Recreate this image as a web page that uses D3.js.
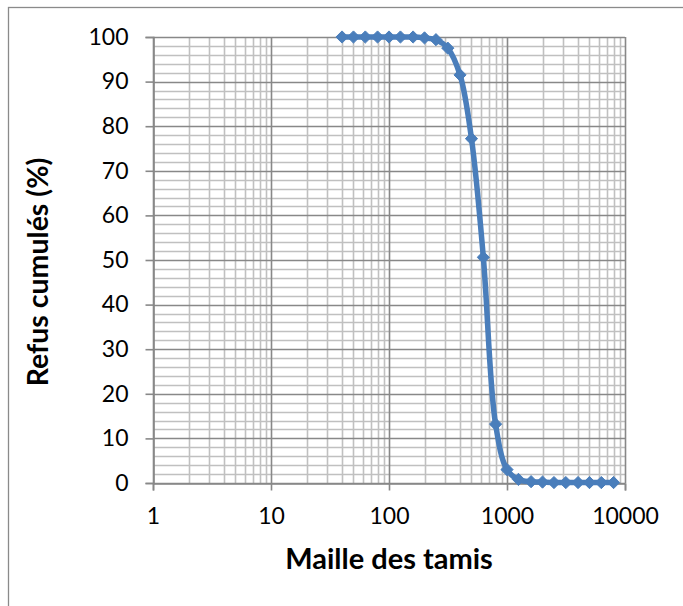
<!DOCTYPE html>
<html>
<head>
<meta charset="utf-8">
<script src="https://cdn.jsdelivr.net/npm/d3@7"></script>
<style>
  html, body { margin: 0; padding: 0; background: #fff; }
  svg { display: block; }
  text { font-family: Lato, "Open Sans", sans-serif; fill: #000; }
</style>
</head>
<body>
<svg id="chart" width="683" height="606"></svg>
<script>
// Sieve openings (µm) and cumulative retained (%)
const sieveSizes = [40, 50, 63, 80, 100, 125, 160, 200, 250, 315, 400, 500, 630, 800, 1000, 1250, 1600, 2000, 2500, 3150, 4000, 5000, 6300, 8000];
const refusCumules = [100, 100, 100, 100, 100, 100, 100, 99.8, 99.4, 97.5, 91.5, 77.2, 50.6, 13.2, 3.0, 0.8, 0.3, 0.2, 0.1, 0.1, 0.1, 0.1, 0.1, 0.1];
const xTickLabels = [1, 10, 100, 1000, 10000];
const yTickLabels = [0, 10, 20, 30, 40, 50, 60, 70, 80, 90, 100];
const xTitle = "Maille des tamis";
const yTitle = "Refus cumulés (%)";

const svg = d3.select("#chart");
const plot = { left: 153, right: 625, top: 37, bottom: 483 };

const x = d3.scaleLog().domain([1, 10000]).range([plot.left, plot.right]);
const y = d3.scaleLinear().domain([0, 100]).range([plot.bottom, plot.top]);

// outer chart frame
svg.append("rect")
  .attr("x", 8.5).attr("y", 7.5).attr("width", 720).attr("height", 720)
  .attr("fill", "#fff").attr("stroke", "#8a8a8a").attr("stroke-width", 1.3);

const minorColor = "#c0c0c0";
const majorColor = "#888888";

// minor vertical gridlines
const minorX = [];
for (let d = 1; d < 10000; d *= 10) for (let k = 2; k <= 9; k++) minorX.push(d * k);
svg.append("g").selectAll("line").data(minorX).join("line")
  .attr("x1", d => Math.round(x(d)) + 0.5).attr("x2", d => Math.round(x(d)) + 0.5)
  .attr("y1", plot.top).attr("y2", plot.bottom)
  .attr("stroke", minorColor).attr("stroke-width", 1.6);

// minor horizontal gridlines (every 2)
const minorY = d3.range(0, 101, 2).filter(v => v % 10 !== 0);
svg.append("g").selectAll("line").data(minorY).join("line")
  .attr("x1", plot.left).attr("x2", plot.right)
  .attr("y1", d => Math.round(y(d)) + 0.5).attr("y2", d => Math.round(y(d)) + 0.5)
  .attr("stroke", minorColor).attr("stroke-width", 1.6);

// major gridlines
svg.append("g").selectAll("line").data(xTickLabels).join("line")
  .attr("x1", d => Math.round(x(d)) + 0.5).attr("x2", d => Math.round(x(d)) + 0.5)
  .attr("y1", plot.top).attr("y2", plot.bottom)
  .attr("stroke", majorColor).attr("stroke-width", 1.6);
svg.append("g").selectAll("line").data(yTickLabels).join("line")
  .attr("x1", plot.left).attr("x2", plot.right)
  .attr("y1", d => Math.round(y(d)) + 0.5).attr("y2", d => Math.round(y(d)) + 0.5)
  .attr("stroke", majorColor).attr("stroke-width", 1.6);

// axes
const xAxis = d3.axisBottom(x).tickValues(xTickLabels).tickFormat(d3.format("d")).tickSize(7).tickPadding(17);
const gx = svg.append("g").attr("transform", `translate(0,${Math.round(y(0)) + 0.5})`).call(xAxis);
const yAxis = d3.axisLeft(y).tickValues(yTickLabels).tickFormat(d3.format("d")).tickSize(8).tickPadding(17);
const gy = svg.append("g").attr("transform", `translate(${Math.round(x(1)) + 0.5},0)`).call(yAxis);
[gx, gy].forEach(g => {
  g.select(".domain").attr("stroke", majorColor).attr("stroke-width", 1.6);
  g.selectAll(".tick line").attr("stroke", majorColor).attr("stroke-width", 1.6);
  g.selectAll(".tick text").attr("font-family", "Lato, sans-serif").attr("font-size", 23).attr("fill", "#000");
});
gx.selectAll(".tick text").attr("dy", "0.71em");

// data line
const pts = sieveSizes.map((s, i) => [x(s), y(refusCumules[i])]);
svg.append("path")
  .attr("d", d3.line().curve(d3.curveCatmullRom.alpha(0.5))(pts))
  .attr("fill", "none").attr("stroke", "#4a7ebb").attr("stroke-width", 5.5)
  .attr("stroke-linejoin", "round").attr("stroke-linecap", "round");

// diamond markers
const diamond = d3.symbol().type(d3.symbolDiamond2).size(95);
svg.append("g").selectAll("path").data(pts).join("path")
  .attr("transform", d => `translate(${d[0]},${d[1]})`)
  .attr("d", diamond)
  .attr("fill", "#4a7ebb").attr("stroke", "#4a7ebb").attr("stroke-width", 1);

// axis titles
svg.append("text")
  .attr("x", (plot.left + plot.right) / 2).attr("y", 569)
  .attr("text-anchor", "middle").attr("font-weight", "bold").attr("font-size", 29)
  .text(xTitle);
svg.append("text")
  .attr("transform", "translate(48,272) rotate(-90)")
  .attr("text-anchor", "middle").attr("font-weight", "bold").attr("font-size", 28.5)
  .text(yTitle);
</script>
</body>
</html>
